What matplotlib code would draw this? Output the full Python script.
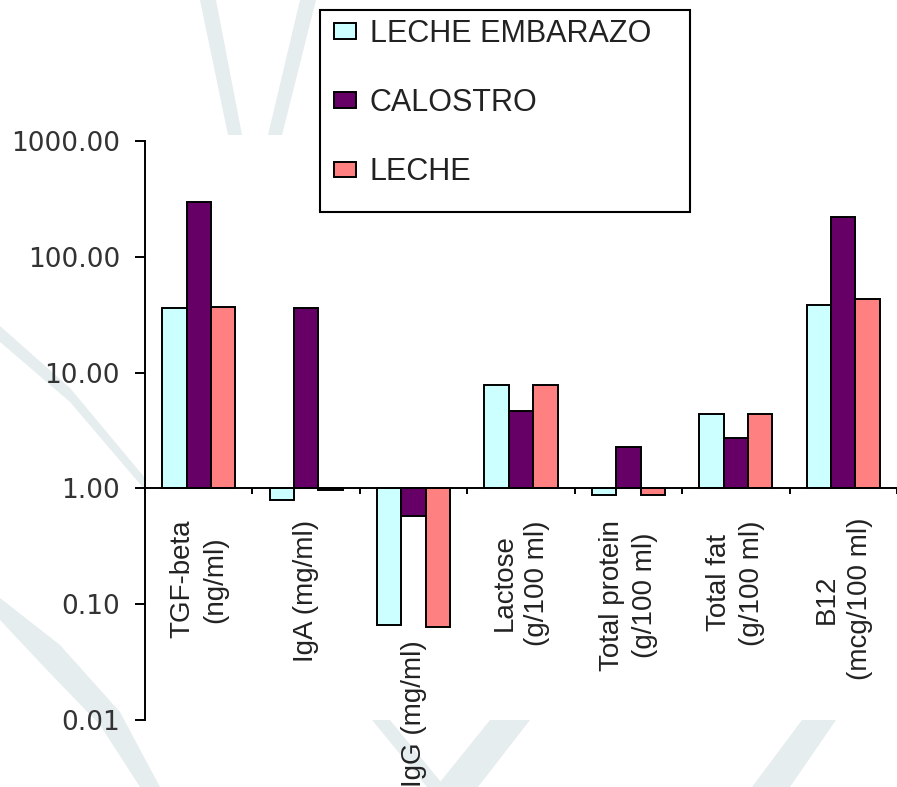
import matplotlib
matplotlib.use("Agg")
import matplotlib.pyplot as plt
import matplotlib.transforms as mtransforms
from matplotlib.patches import Polygon, Rectangle
import numpy as np

# data (log scale, bars drawn from 1.0)
categories = ["TGF-beta\n(ng/ml)", "IgA (mg/ml)", "IgG (mg/ml)", "Lactose\n(g/100 ml)",
              "Total protein\n(g/100 ml)", "Total fat\n(g/100 ml)", "B12\n(mcg/100 ml)"]
series_names = ["LECHE EMBARAZO", "CALOSTRO", "LECHE"]
leche_embarazo = [36.0, 0.79, 0.066, 7.8, 0.87, 4.4, 38.7]
calostro = [295.0, 36.0, 0.58, 4.7, 2.27, 2.7, 222.0]
leche = [37.0, 0.97, 0.064, 7.8, 0.87, 4.4, 43.6]
yticks = [0.01, 0.1, 1, 10, 100, 1000]

colors = ["#CCFFFF", "#660066", "#FF8080"]
W, H = 897, 787

fig = plt.figure(figsize=(W / 100, H / 100), dpi=100)
fig.patch.set_facecolor("white")


def px(points):
    # figure pixel coords (y down) -> figure fraction
    return [(x / W, 1 - y / H) for x, y in points]


# faint watermark behind the chart
wm = "#e6edef"
shapes = [
    [(0, 326), (70, 388), (145, 478), (145, 490), (70, 402), (0, 342)],
    [(0, 598), (60, 645), (120, 712), (160, 787), (140, 787), (100, 725), (45, 668), (0, 620)],
    [(200, 0), (216, 0), (242, 135), (228, 135)],
    [(300, 0), (316, 0), (282, 135), (268, 135)],
    [(372, 720), (390, 720), (445, 787), (427, 787)],
    [(490, 720), (530, 720), (478, 787), (436, 787)],
    [(802, 720), (836, 720), (790, 787), (752, 787)],
]
for s in shapes:
    fig.patches.append(Polygon(px(s), closed=True, transform=fig.transFigure,
                               facecolor=wm, edgecolor="none", zorder=-5))

ax = fig.add_axes([145 / W, (H - 720) / H, (W - 145) / W, (720 - 141) / H])
ax.set_facecolor("white")
ax.set_yscale("log")
ax.set_ylim(0.01, 1000)
ax.set_xlim(0, len(categories))

x = np.arange(len(categories)) + 0.5
bw = 0.227
bars = []
for i, (vals, c) in enumerate(zip([leche_embarazo, calostro, leche], colors)):
    v = np.array(vals)
    b = ax.bar(x + (i - 1) * bw, v - 1, bottom=1, width=bw, color=c,
               edgecolor="black", linewidth=1.4, label=series_names[i], zorder=2)
    bars.append(b)

for sp in ["top", "right"]:
    ax.spines[sp].set_visible(False)
ax.spines["bottom"].set_position(("data", 1))
ax.spines["left"].set_linewidth(1.4)
ax.spines["bottom"].set_linewidth(1.4)

ax.set_yticks(yticks)
ax.set_yticklabels([f"{t:.2f}" for t in yticks])
ax.yaxis.set_minor_locator(matplotlib.ticker.NullLocator())
ax.tick_params(axis="y", length=7, width=1.4, pad=11, labelsize=19, labelcolor="#333333")
for lab in ax.get_yticklabels():
    lab.set_family("DejaVu Sans")

ax.set_xticks(np.arange(len(categories) + 1))
ax.set_xticklabels([])
ax.xaxis.set_minor_locator(matplotlib.ticker.NullLocator())
ax.tick_params(axis="x", direction="out", length=4, width=1.4)

# category labels, rotated, hung below the 1.00 baseline
tr = mtransforms.blended_transform_factory(ax.transData, fig.transFigure)
label_top = [520, 520, 640, 520, 520, 520, 518]
for xi, lab, top in zip(x, categories, label_top):
    ax.text(xi, 1 - top / H, lab, transform=tr, rotation=90, ha="center", va="top",
            multialignment="center", linespacing=1.35, fontsize=20,
            family="Liberation Sans", color="#222222", clip_on=False)

# legend with its own square frame
fig.patches.append(Rectangle((320 / W, 1 - 212 / H), 370 / W, 202 / H, transform=fig.transFigure,
                             facecolor="white", edgecolor="black", linewidth=1.5, zorder=3))
leg = fig.legend(handles=bars, labels=series_names, loc="upper left",
                 bbox_to_anchor=(334 / W, 1 - 19 / H), frameon=False, borderpad=0,
                 borderaxespad=0, handlelength=0.72, handleheight=0.4, handletextpad=0.45,
                 labelspacing=1.28, prop={"family": "Liberation Sans", "size": 22})
leg.set_zorder(4)
for t in leg.get_texts():
    t.set_color("#222222")

fig.savefig("out.png", dpi=100)
plt.close(fig)
